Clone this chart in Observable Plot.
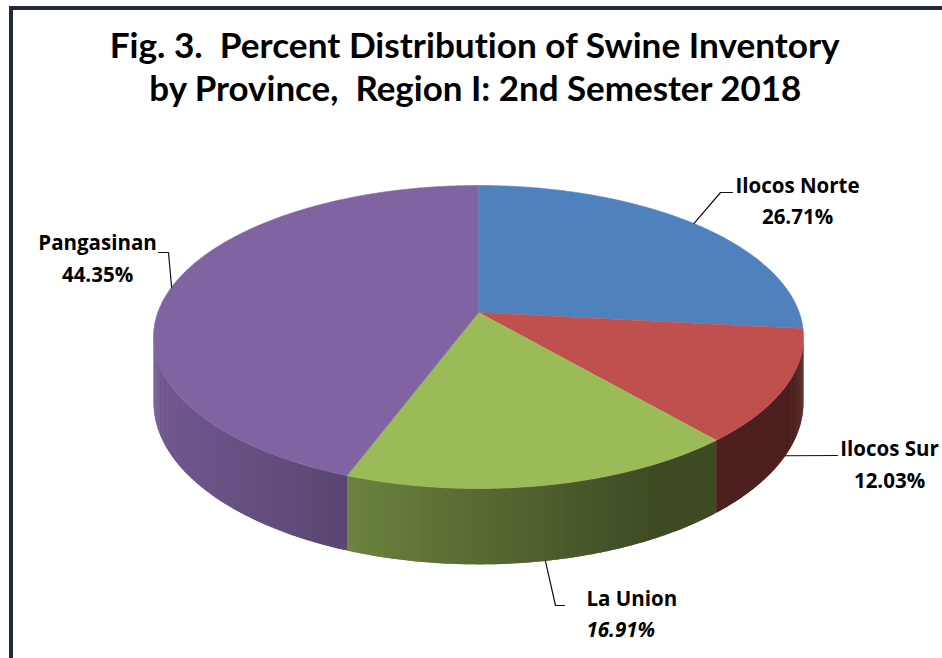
<!DOCTYPE html>
<html><head><meta charset="utf-8">
<script src="https://cdn.jsdelivr.net/npm/d3@7"></script>
<script src="https://cdn.jsdelivr.net/npm/@observablehq/plot@0.6"></script>
<style>
html,body{margin:0;padding:0;background:#fff;overflow:hidden;width:942px;height:658px}
#frame{position:absolute;left:9px;top:6px;width:1000px;height:700px;border-left:4px solid #232b36;border-top:4px solid #232b36;box-sizing:border-box}
.t{position:absolute;left:0;width:950px;text-align:center;font-family:Lato,"Open Sans",sans-serif;font-weight:700;font-size:34px;color:#000;white-space:pre;line-height:34px;font-variant-ligatures:none;font-feature-settings:"liga" 0}
.t span{display:inline-block;transform-origin:50% 50%}
#chart{position:absolute;left:0;top:120px}
</style></head><body>
<div id="frame"></div>
<div class="t" id="t1" style="top:28px"><span>Fig. 3.  Percent Distribution of Swine Inventory</span></div>
<div class="t" id="t2" style="top:71px"><span>by Province,  Region I: 2nd Semester 2018</span></div>
<div id="chart"></div>
<script>
// ---- data ----
const provinces = ["Ilocos Norte", "Ilocos Sur", "La Union", "Pangasinan"];
const shares = [26.71, 12.03, 16.91, 44.35];
const colors = ["#4F81BD", "#C0504D", "#9BBB59", "#8064A2"];

// ---- layout (page pixels) ----
const geom = {cx: 478, cy: 312, kx: 320.7, ky: 147.55, c: 0.1617, depth: 63.6};
const labelLayout = [
  {anchor: "middle", x: 797, y1: 186, y2: 217, elbows: [[720, 192], [732, 192]], italic: false},
  {anchor: "middle", x: 889, y1: 449, y2: 481, elbows: [[837, 455]], italic: false},
  {anchor: "start",  x: 586, y1: 599, y2: 630, elbows: [[555, 605], [564, 605]], italic: true},
  {anchor: "middle", x: 97,  y1: 243, y2: 275, elbows: [[168, 252], [158, 252]], italic: false}
];

// title width fitting
[["t1", 730], ["t2", 652]].forEach(([id, w]) => {
  const s = document.querySelector("#" + id + " span");
  const cw = s.getBoundingClientRect().width;
  s.style.transform = `scaleX(${w / cw})`;
});

function proj(theta, r = 1, bottom = false) {
  const X = r * Math.sin(theta), Z = r * Math.cos(theta);
  const d = 1 + geom.c * Z;
  return [geom.cx + geom.kx * X / d, geom.cy - geom.ky * Z / d + (bottom ? geom.depth / d : 0)];
}
function shade(col, x) {
  const t = Math.max(0, Math.min(1, (x - 160) / (650 - 160)));
  const m = 0.88 - 0.48 * t;
  const c = d3.rgb(col);
  return d3.rgb(c.r * m, c.g * m, c.b * m).formatHex();
}

const table = provinces.map((p, i) => ({name: p, share: shares[i], color: colors[i]}));
const arcs = d3.pie().sort(null).value(d => d.share)(table);

const step = Math.PI / 360;
const topRows = [], sideRows = [], leaderRows = [];
const visA = Math.acos(-geom.c), visB = 2 * Math.PI - visA;

arcs.forEach((a, i) => {
  const id = a.data.name;
  // top face
  topRows.push({id, x: geom.cx, y: geom.cy, col: a.data.color});
  const n = Math.max(2, Math.ceil((a.endAngle - a.startAngle) / step));
  for (let k = 0; k <= n; k++) {
    const t = a.startAngle + (a.endAngle - a.startAngle) * k / n;
    const [x, y] = proj(t);
    topRows.push({id, x, y, col: a.data.color});
  }
  // side strips (each overlapping the next slightly, to hide seams)
  const s0 = Math.max(a.startAngle, visA), s1 = Math.min(a.endAngle, visB);
  if (s1 > s0) {
    const m = Math.max(1, Math.ceil((s1 - s0) / (Math.PI / 360)));
    for (let k = 0; k < m; k++) {
      const t0 = s0 + (s1 - s0) * k / m;
      const t1 = Math.min(s1, s0 + (s1 - s0) * (k + 1.8) / m);
      const p0 = proj(t0), p1 = proj(t1), q1 = proj(t1, 1, true), q0 = proj(t0, 1, true);
      const col = shade(a.data.color, (p0[0] + p1[0]) / 2);
      const sid = id + "-" + k;
      [p0, p1, q1, q0].forEach(([x, y]) => sideRows.push({id: sid, x, y, col}));
    }
  }
  // leader line
  const mid = (a.startAngle + a.endAngle) / 2;
  const onSide = Math.cos(mid) < -geom.c;
  const st = proj(mid, 1, onSide);
  leaderRows.push({id, x: st[0], y: st[1]});
  labelLayout[i].elbows.forEach(([x, y]) => leaderRows.push({id, x, y}));
});

const fmt = v => d3.format(".2f")(v) + "%";
const labelRows = arcs.map((a, i) => ({...labelLayout[i], name: a.data.name, pct: fmt(a.data.share)}));
const txt = {fontFamily: "'Open Sans', sans-serif", fontWeight: 700, fontSize: 20.5, fill: "#000"};

const chart = Plot.plot({
  width: 942, height: 538,
  marginTop: 0, marginRight: 0, marginBottom: 0, marginLeft: 0,
  x: {domain: [0, 942], range: [0, 942], axis: null},
  y: {domain: [120, 658], range: [0, 538], axis: null},
  color: {type: "identity"},
  marks: [
    Plot.line(sideRows, {x: "x", y: "y", z: "id", fill: "col", stroke: "none", curve: "linear"}),
    Plot.line(topRows, {x: "x", y: "y", z: "id", fill: "col", stroke: "col", strokeWidth: 0.6, curve: "linear"}),
    Plot.line(leaderRows, {x: "x", y: "y", z: "id", stroke: "#111", strokeWidth: 1.2, curve: "linear"}),
    Plot.text(labelRows.filter(d => d.anchor === "middle"), {x: "x", y: "y1", text: "name", textAnchor: "middle", ...txt}),
    Plot.text(labelRows.filter(d => d.anchor === "start"), {x: "x", y: "y1", text: "name", textAnchor: "start", ...txt}),
    Plot.text(labelRows.filter(d => !d.italic && d.anchor === "middle"), {x: "x", y: "y2", text: "pct", textAnchor: "middle", ...txt}),
    Plot.text(labelRows.filter(d => d.italic), {x: "x", y: "y2", text: "pct", textAnchor: "start", fontStyle: "italic", ...txt})
  ]
});
document.getElementById("chart").appendChild(chart);
</script>
</body></html>
